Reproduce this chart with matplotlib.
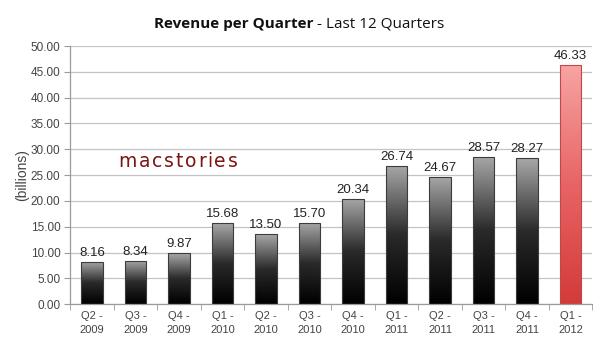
import matplotlib

matplotlib.use("Agg")
import matplotlib.pyplot as plt
import numpy as np
from matplotlib.colors import LinearSegmentedColormap
from matplotlib.font_manager import FontProperties
from matplotlib.transforms import offset_copy

quarters = ["Q2 -\n2009", "Q3 -\n2009", "Q4 -\n2009", "Q1 -\n2010", "Q2 -\n2010",
            "Q3 -\n2010", "Q4 -\n2010", "Q1 -\n2011", "Q2 -\n2011", "Q3 -\n2011",
            "Q4 -\n2011", "Q1 -\n2012"]
revenue = [8.16, 8.34, 9.87, 15.68, 13.50, 15.70, 20.34, 26.74, 24.67, 28.57, 28.27, 46.33]
highlight = [False] * 11 + [True]

GRID = "#c4c4c4"
AXIS = "#9a9a9a"
TEXT = "#444444"

gray_cmap = LinearSegmentedColormap.from_list("gray_bar", ["#000000", "#2a2a2a", "#a8a8a8"])
red_cmap = LinearSegmentedColormap.from_list("red_bar", ["#d43a3a", "#e86464", "#f7a4a4"])

fig = plt.figure(figsize=(6, 3.41), dpi=100)
ax = fig.add_axes([0.117, 0.108, 0.87, 0.757])

x = np.arange(len(revenue))
bars = ax.bar(x, revenue, width=0.5, color="none", edgecolor="#3c3c3c", linewidth=0.8, zorder=3)

# vertical gradient inside each bar, clipped to the bar outline
grad = np.linspace(0, 1, 256).reshape(-1, 1)
for bar, hi in zip(bars, highlight):
    x0, w, h = bar.get_x(), bar.get_width(), bar.get_height()
    cmap = red_cmap if hi else gray_cmap
    im = ax.imshow(grad, cmap=cmap, aspect="auto", origin="lower",
                   extent=(x0, x0 + w, 0, h), zorder=2)
    im.set_clip_path(bar)
    bar.set_edgecolor("#c04848" if hi else "#3c3c3c")

for xi, v in zip(x, revenue):
    ax.text(xi, v + 0.6, f"{v:.2f}", ha="center", va="bottom", fontsize=9.5,
            color="#222222", family="Liberation Sans", zorder=4)

ax.set_xlim(-0.5, len(revenue) - 0.5)
ax.set_ylim(0, 50)
yt = np.arange(0, 50.1, 5)
ax.set_yticks(yt)
ax.set_yticklabels([f"{t:.2f}" for t in yt])
ax.set_xticks(x)
ax.set_xticklabels(quarters, linespacing=1.45)
ax.set_xticks(np.arange(-0.5, len(revenue)), minor=True)
ax.tick_params(axis="x", which="major", length=0, pad=5, labelsize=8, labelcolor=TEXT)
ax.tick_params(axis="x", which="minor", length=4, color=AXIS, direction="out")
ax.tick_params(axis="y", length=4, color=AXIS, labelsize=8.5, labelcolor=TEXT, pad=3)
for lbl in ax.get_xticklabels() + ax.get_yticklabels():
    lbl.set_family("Liberation Sans")

ax.grid(axis="y", color=GRID, linewidth=0.9, zorder=0)
ax.set_axisbelow(True)
for side in ("top", "right"):
    ax.spines[side].set_visible(False)
for side in ("left", "bottom"):
    ax.spines[side].set_color(AXIS)
    ax.spines[side].set_linewidth(0.9)

ax.set_ylabel("(billions)", fontsize=10, color=TEXT, family="Liberation Sans", labelpad=1)

# letter-spaced logo word, advancing by each glyph's width plus tracking
logo = "macstories"
logo_font = FontProperties(family="DejaVu Sans", size=13.5)
tracking = 1.8  # extra pixels between letters
renderer = fig.canvas.get_renderer()
offset = 0.0
for ch in logo:
    tr = offset_copy(ax.transAxes, fig=fig, x=offset, y=0, units="dots")
    ax.text(0.092, 0.553, ch, transform=tr, fontproperties=logo_font,
            color="#7d1414", ha="left", va="center")
    w, _, _ = renderer.get_text_width_height_descent(ch, logo_font, ismath=False)
    offset += w + tracking

fig.text(0.522, 0.931, "Revenue per Quarter", fontsize=11, fontweight="bold",
         family="Open Sans", ha="right", va="center", color="#111111")
fig.text(0.522, 0.931, " - Last 12 Quarters", fontsize=11,
         family="Open Sans", ha="left", va="center", color="#111111")

fig.savefig("out.png", dpi=100, facecolor="white")
